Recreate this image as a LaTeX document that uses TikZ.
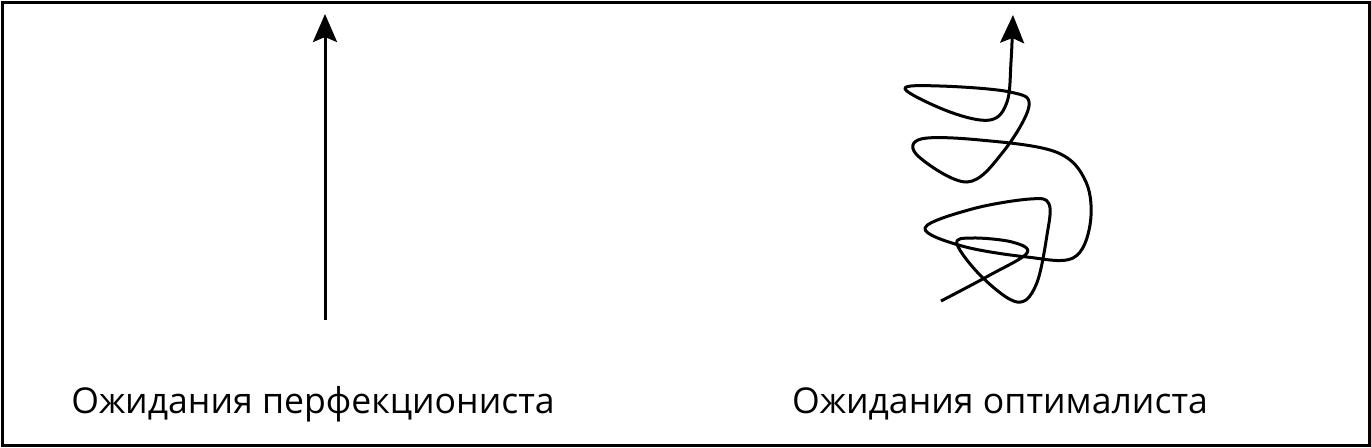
\documentclass[tikz,border=0pt]{standalone}
\usepackage{fontspec}
\setmainfont{Open Sans}
\usetikzlibrary{arrows.meta}

\begin{document}
\begin{tikzpicture}[
		x=0.5pt, y=-0.5pt,
		line width=1.5pt,
		every node/.style={inner sep=0pt, font=\fontsize{17.8}{21}\selectfont},
		way/.style={-{Stealth[length=14pt, width=12pt, inset=2.5pt]}}
	]
  \useasboundingbox (0,0) rectangle (1371,447);
  \draw (2,2) rectangle (1369,445);
  % perfectionist
  \coordinate (p_start) at (325,320);
  \coordinate (p_end) at (325,14);
  \draw [way] (p_start) -- (p_end);
  \node (p_label) [anchor=base] at (313,413) {Ожидания перфекциониста};
  % optimalist
  \draw [way, line join=round] plot [smooth, tension=0.6] coordinates {
    (941,301) (990,275) (1027,253) (1012,242) (972,238) (957,244) (982,277)
    (1017,302) (1036,285) (1047,235) (1049,204) (1030,199) (972,209) (925,228)
    (962,246) (1027,257) (1073,258) (1090,225) (1086,182) (1056,152) (980,140)
    (921,139) (918,156) (967,182) (1003,152) (1029,106) (1010,92) (940,86)
    (905,89) (950,112) (990,120) (1007,102) (1011,62) (1013,15)
  };
  \node (o_label) [anchor=base] at (1000,413) {Ожидания оптималиста};
\end{tikzpicture}
\end{document}
